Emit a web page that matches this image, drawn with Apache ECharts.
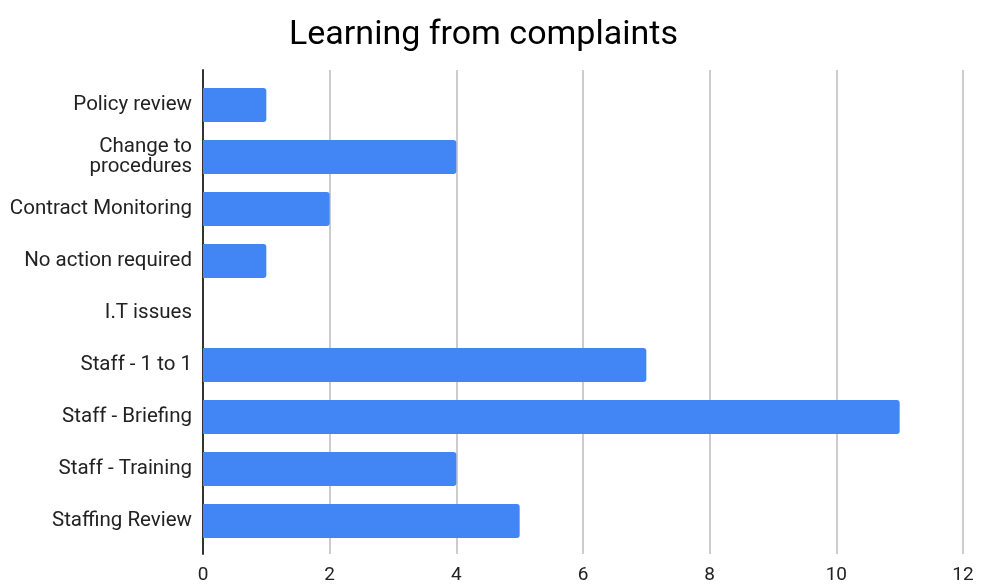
<!DOCTYPE html>
<html>
<head>
<meta charset="utf-8">
<title>Learning from complaints</title>
<script src="https://cdn.jsdelivr.net/npm/echarts@6/dist/echarts.min.js"></script>
<style>
  html, body { margin: 0; padding: 0; background: #fff; }
  #chart { width: 981px; height: 585px; }
</style>
</head>
<body>
<div id="chart"></div>
<script>
// Outcome categories, listed top to bottom
const categories = [
  'Policy review',
  'Change to\nprocedures',
  'Contract Monitoring',
  'No action required',
  'I.T issues',
  'Staff - 1 to 1',
  'Staff - Briefing',
  'Staff - Training',
  'Staffing Review'
];
// Number of complaints per outcome
const counts = [1, 4, 2, 1, 0, 7, 11, 4, 5];
// Horizontal scale
const xMin = 0, xMax = 12, xStep = 2;

const font = 'Roboto, "Noto Sans", sans-serif';
const chart = echarts.init(document.getElementById('chart'));

chart.setOption({
  animation: false,
  title: {
    text: 'Learning from complaints',
    left: 284,
    top: 13,
    textStyle: { fontFamily: font, fontSize: 34, fontWeight: 'normal', color: '#000' }
  },
  grid: [
    // bars
    { left: 203, right: 18, top: 79, height: 468, containLabel: false },
    // gridlines, baseline and tick labels (extend a little past the bars)
    { left: 203, right: 18, top: 70, height: 486, containLabel: false }
  ],
  xAxis: [
    {
      gridIndex: 0, type: 'value', min: xMin, max: xMax, interval: xStep,
      axisLine: { show: false }, axisTick: { show: false },
      axisLabel: { show: false }, splitLine: { show: false }
    },
    {
      gridIndex: 1, type: 'value', min: xMin, max: xMax, interval: xStep,
      axisLine: { show: false }, axisTick: { show: false },
      axisLabel: { fontFamily: font, fontSize: 19, color: '#222', margin: 12 },
      splitLine: { show: true, lineStyle: { color: '#cccccc', width: 2 } }
    }
  ],
  yAxis: [
    {
      gridIndex: 0, type: 'category', data: categories, inverse: true,
      axisLine: { show: false }, axisTick: { show: false },
      axisLabel: {
        fontFamily: font, fontSize: 20.5, color: '#222', margin: 11,
        lineHeight: 20, align: 'right', padding: [4, 0, 0, 0]
      }
    },
    {
      gridIndex: 1, type: 'value', min: 0, max: 1,
      axisLine: { show: true, lineStyle: { color: '#333', width: 2 } },
      axisTick: { show: false }, axisLabel: { show: false }, splitLine: { show: false }
    }
  ],
  series: [
    {
      type: 'bar',
      xAxisIndex: 0, yAxisIndex: 0,
      data: counts,
      barWidth: 34,
      itemStyle: { color: '#4285f4', borderRadius: [0, 3, 3, 0] },
      z: 3
    }
  ]
});
</script>
</body>
</html>
